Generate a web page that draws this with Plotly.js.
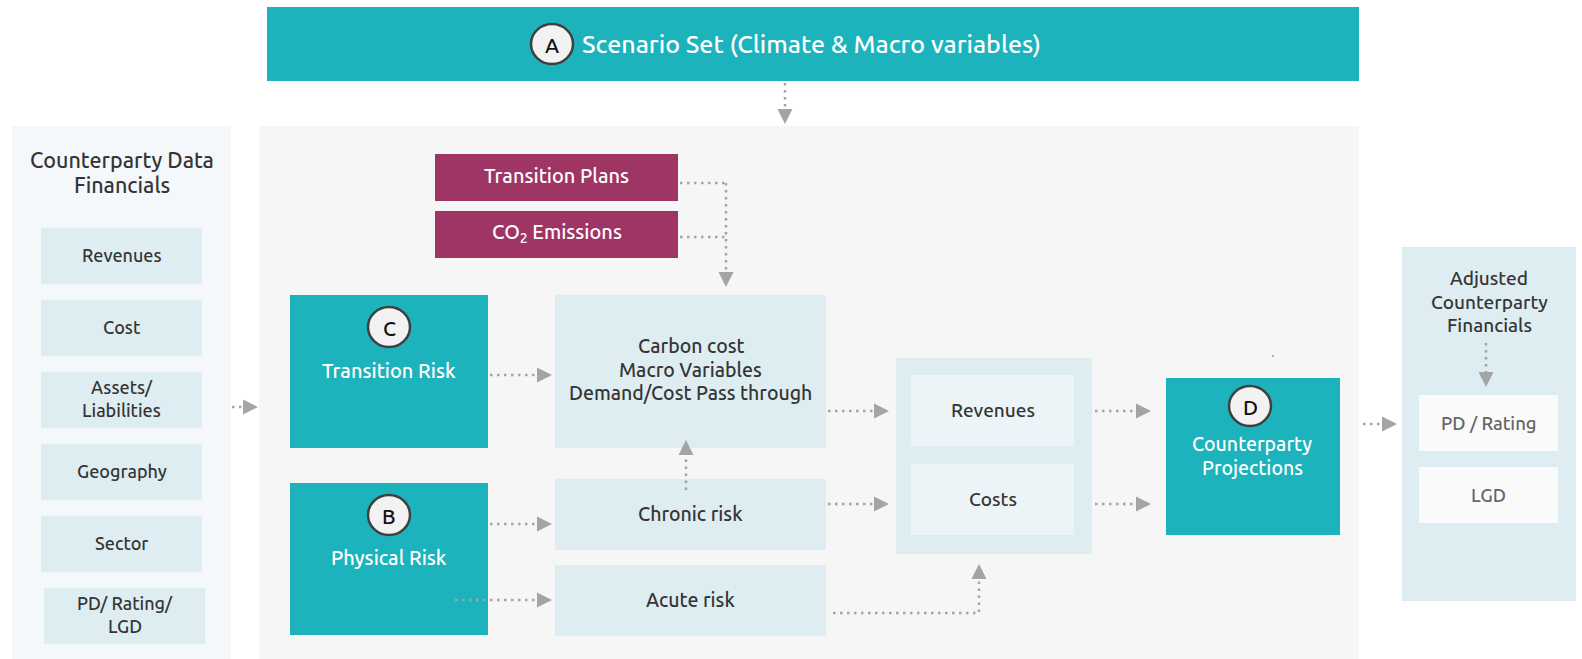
<!DOCTYPE html>
<html><head><meta charset="utf-8">
<script src="https://cdn.plot.ly/plotly-3.0.1.min.js"></script>
<style>html,body{margin:0;padding:0;background:#fff;overflow:hidden}#chart{width:1582px;height:659px}</style>
</head><body><div id="chart"></div>
<script>
// ---------- diagram content ----------
const scenarioLabel = "Scenario Set (Climate & Macro variables)";
const stepBadges = ["A", "B", "C", "D"];
const inputPanelTitle = "Counterparty Data<br>Financials";
const inputItems = ["Revenues", "Cost", "Assets/<br>Liabilities", "Geography", "Sector", "PD/ Rating/<br>LGD"];
const transitionInputs = ["Transition Plans", "CO<sub>2</sub> Emissions"];
const riskTypes = ["Transition Risk", "Physical Risk"];
const channelItems = ["Carbon cost<br>Macro Variables<br>Demand/Cost Pass through", "Chronic risk", "Acute risk"];
const financialLines = ["Revenues", "Costs"];
const projectionLabel = "Counterparty<br>Projections";
const outputPanelTitle = "Adjusted<br>Counterparty<br>Financials";
const outputItems = ["PD / Rating", "LGD"];

// ---------- styles ----------
const FONT = "Ubuntu, 'Open Sans', 'Noto Sans', sans-serif";
const WEIGHT = 500;
const C = {
  teal: "#1DB3BC", maroon: "#9E3564", lightBlue: "#DEEDF2", paleBlue: "#EDF4F7",
  leftPanel: "#F4F8FB", midPanel: "#F6F6F6", white: "#FAFAFA",
  arrow: "#A4A4A4", dark: "#353535", grey: "#666666", badgeFill: "#F2F2F2", badgeLine: "#3F3F3F"
};

const shapes = [];
const annotations = [];

function rect(x0, y0, x1, y1, fill) {
  shapes.push({type: "rect", xref: "x", yref: "y", x0, y0, x1, y1, fillcolor: fill, line: {width: 0}, layer: "below"});
}
function text(x, y, t, size, color, anchor, gap) {
  const lines = t.split("<br>");
  const g = gap || size * 1.2;
  const top = y - g * (lines.length - 1) / 2;
  lines.forEach((ln, i) => {
    annotations.push({xref: "x", yref: "y", x, y: top + g * i - 1.5, text: ln, showarrow: false,
      xanchor: anchor || "center", yanchor: "middle", font: {family: FONT, size, color, weight: WEIGHT}});
  });
}
function badge(cx, cy, letter) {
  shapes.push({type: "circle", xref: "x", yref: "y", x0: cx - 21, x1: cx + 21, y0: cy - 20, y1: cy + 20,
    fillcolor: C.badgeFill, line: {color: C.badgeLine, width: 2.5}, layer: "above"});
  text(cx, cy + 2, letter, 21, "#111");
}
function dotted(pts) {
  const d = "M" + pts.map(p => p[0] + "," + p[1]).join(" L");
  shapes.push({type: "path", xref: "x", yref: "y", path: d, line: {color: C.arrow, width: 2.5, dash: "2.5px,4.5px"}, layer: "above"});
}
function head(tx, ty, dir) {
  const L = 15, W = 7.5;
  let p;
  if (dir === "right") p = `M${tx},${ty} L${tx - L},${ty - W} L${tx - L},${ty + W} Z`;
  if (dir === "left") p = `M${tx},${ty} L${tx + L},${ty - W} L${tx + L},${ty + W} Z`;
  if (dir === "down") p = `M${tx},${ty} L${tx - W},${ty - L} L${tx + W},${ty - L} Z`;
  if (dir === "up") p = `M${tx},${ty} L${tx - W},${ty + L} L${tx + W},${ty + L} Z`;
  shapes.push({type: "path", xref: "x", yref: "y", path: p, fillcolor: C.arrow, line: {width: 0}, layer: "above"});
}
function arrow(pts, dir) {
  const tip = pts[pts.length - 1];
  const q = pts.slice(0, -1);
  const off = {right: [-15, 0], left: [15, 0], down: [0, -15], up: [0, 15]}[dir];
  q.push([tip[0] + off[0], tip[1] + off[1]]);
  dotted(q);
  head(tip[0], tip[1], dir);
}

// ---------- panels ----------
rect(12, 126, 231, 659, C.leftPanel);
rect(259, 126, 1359, 659, C.midPanel);
rect(1402, 247, 1576, 601, C.lightBlue);

// scenario bar
rect(267, 7, 1359, 81, C.teal);
badge(552, 44, stepBadges[0]);
text(580, 45, scenarioLabel, 25, "#FFFFFF", "left");

// left input panel
text(121.5, 174, inputPanelTitle, 21.5, C.dark, "center", 25.5);
inputItems.forEach((lab, i) => {
  const y0 = 228 + 72 * i;
  const x0 = i === inputItems.length - 1 ? 44 : 41;
  rect(x0, y0, x0 + 161, y0 + 56, C.lightBlue);
  text(x0 + 80.5, y0 + 28, lab, 18, C.dark, "center", 23.5);
});

// transition inputs
transitionInputs.forEach((lab, i) => {
  const y0 = 154 + 57 * i;
  rect(435, y0, 678, y0 + 47, C.maroon);
  text(556.5, y0 + 23, lab, 20, "#FFFFFF");
});

// risk types
[[295, 448, 327, 372], [483, 635, 515, 559]].forEach((g, i) => {
  rect(290, g[0], 488, g[1], C.teal);
  badge(389, g[2], stepBadges[2 - i]);
  text(389, g[3], riskTypes[i], 20, "#FFFFFF");
});

// channel boxes
[[295, 448, 371], [479, 550, 515], [565, 636, 601]].forEach((g, i) => {
  rect(555, g[0], 826, g[1], C.lightBlue);
  text(690.5, g[2], channelItems[i], 19.5, C.dark, "center", 23.4);
});

// financial lines container
rect(896, 358, 1092, 554, C.lightBlue);
[[375, 446], [464, 535]].forEach((g, i) => {
  rect(911, g[0], 1074, g[1], C.paleBlue);
  text(992.5, (g[0] + g[1]) / 2 + 0.5, financialLines[i], 19, C.dark);
});

// projections
rect(1166, 378, 1340, 535, C.teal);
badge(1250, 406, stepBadges[3]);
text(1252, 457, projectionLabel, 19.5, "#FFFFFF", "center", 24);

// output panel
text(1489, 303, outputPanelTitle, 19, C.dark, "center", 23.5);
[[395, 451], [467, 523]].forEach((g, i) => {
  rect(1419, g[0], 1558, g[1], C.white);
  text(1488.5, (g[0] + g[1]) / 2 + 1.5, outputItems[i], 18.5, C.grey);
});

// tiny speck
rect(1272, 355, 1274, 357, "#B0B0B0");

// ---------- connectors ----------
arrow([[785, 83], [785, 124]], "down");
arrow([[232, 407], [258, 407]], "right");
dotted([[680, 183], [726, 183]]);
dotted([[680, 237], [726, 237]]);
arrow([[726, 183], [726, 287]], "down");
arrow([[490, 375], [552, 375]], "right");
arrow([[490, 524], [552, 524]], "right");
arrow([[455, 600], [552, 600]], "right");
arrow([[686, 490], [686, 440]], "up");
arrow([[828, 411], [889, 411]], "right");
arrow([[828, 504], [889, 504]], "right");
arrow([[833, 613], [979, 613], [979, 564]], "up");
arrow([[1095, 411], [1151, 411]], "right");
arrow([[1095, 504], [1151, 504]], "right");
arrow([[1363, 424], [1397, 424]], "right");
arrow([[1486, 343], [1486, 387]], "down");

const layout = {
  width: 1582, height: 659,
  margin: {l: 0, r: 0, t: 0, b: 0, pad: 0},
  paper_bgcolor: "#FFFFFF", plot_bgcolor: "#FFFFFF",
  xaxis: {range: [0, 1582], visible: false, fixedrange: true},
  yaxis: {range: [659, 0], visible: false, fixedrange: true},
  showlegend: false,
  shapes, annotations
};
Plotly.newPlot("chart", [], layout, {displayModeBar: false, staticPlot: true});
</script>
</body></html>
